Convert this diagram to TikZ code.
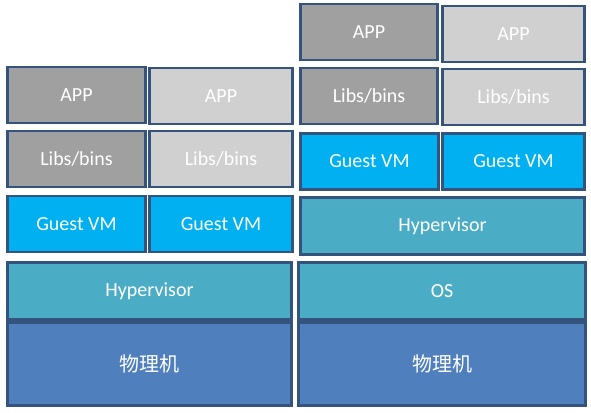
\documentclass[tikz,border=0pt]{standalone}
\usepackage{fontspec}
\setmainfont{Carlito}
\newfontfamily\cjk{Noto Sans CJK SC}
\usepackage{tikz}
\definecolor{edgeblue}{HTML}{34547E}
\definecolor{appdark}{HTML}{A0A0A0}
\definecolor{applight}{HTML}{D0D0D0}
\definecolor{guestcyan}{HTML}{00B0F0}
\definecolor{hyperteal}{HTML}{4BACC6}
\definecolor{hwblue}{HTML}{4F7FBC}
\tikzset{%
  layer/.style    = {draw=edgeblue, line width=2.3pt, rectangle, inner sep=0pt,
    text=white, font=\fontsize{20}{24}\selectfont},
  small/.style    = {layer, minimum height=56pt},
  darkbox/.style  = {small, fill=appdark},
  lightbox/.style = {small, fill=applight},
  guest/.style    = {layer, fill=guestcyan, minimum height=56pt},
  hyper/.style    = {layer, fill=hyperteal, minimum height=57pt},
  hw/.style       = {layer, fill=hwblue, minimum height=83pt}
}
\begin{document}
\begin{tikzpicture}[x=1pt, y=-1pt]
        \useasboundingbox (0,0) rectangle (591,412);
        % left stack
        \draw
        node at(76.5,95)[darkbox, minimum width=138pt, name=AppLeftA]{APP}
        node at(221,96)[lightbox, minimum width=143pt, name=AppLeftB]{APP}
        node at(76.5,159)[darkbox, minimum width=138pt, name=LibLeftA]{Libs/bins}
        node at(221,159)[lightbox, minimum width=143pt, name=LibLeftB]{Libs/bins}
        node at(76.5,224)[guest, minimum width=138pt, name=GuestLeftA]{Guest VM}
        node at(221,224)[guest, minimum width=143pt, name=GuestLeftB]{Guest VM}
        node at(149.5,291)[hyper, minimum width=284pt, name=HyperLeft]{Hypervisor}
        node at(149.5,364)[hw, minimum width=284pt, name=HostLeft]{\cjk 物理机};
        % right stack
        \draw
        node at(369,32)[darkbox, minimum width=137pt, name=AppRightA]{APP}
        node at(513.5,34)[lightbox, minimum width=142pt, name=AppRightB]{APP}
        node at(369,96)[darkbox, minimum width=137pt, name=LibRightA]{Libs/bins}
        node at(513.5,97)[lightbox, minimum width=142pt, name=LibRightB]{Libs/bins}
        node at(369.5,161.5)[guest, minimum width=138pt, name=GuestRightA]{Guest VM}
        node at(513.5,161.5)[guest, minimum width=142pt, name=GuestRightB]{Guest VM}
        node at(442.5,226)[hyper, minimum width=284pt, name=HyperRight]{Hypervisor}
        node at(442,291)[hyper, minimum width=287pt, name=OSRight]{OS}
        node at(442,364)[hw, minimum width=287pt, name=HostRight]{\cjk 物理机};
    \end{tikzpicture}
\end{document}
